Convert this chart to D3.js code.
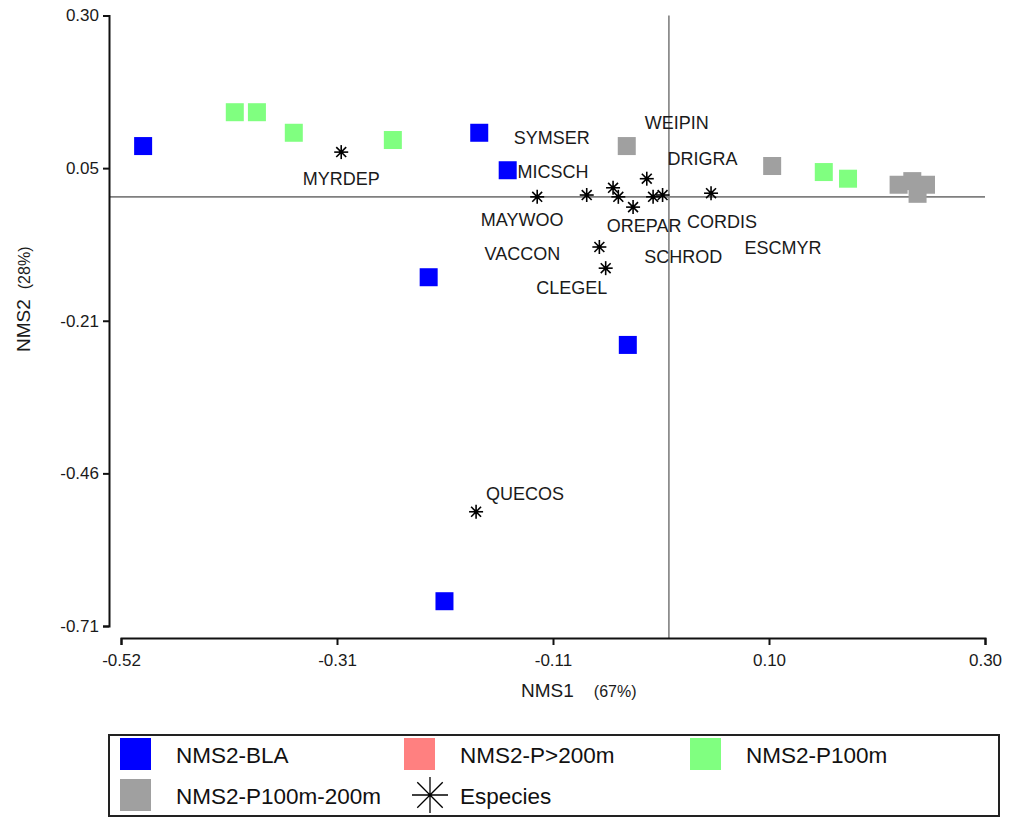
<!DOCTYPE html>
<html>
<head>
<meta charset="utf-8">
<script src="https://cdn.jsdelivr.net/npm/d3@7"></script>
<style>
  html, body { margin: 0; padding: 0; background: #fff; }
  svg { display: block; font-family: "Liberation Sans", Arial, sans-serif; }
</style>
</head>
<body>
<svg id="chart" width="1010" height="819"></svg>
<script>
// NMS ordination scores (axis 1, axis 2)
const blaX = [-0.499, -0.180, -0.153, -0.228, -0.039, -0.213];
const blaY = [0.084, 0.106, 0.044, -0.133, -0.245, -0.669];

const p200X = [];
const p200Y = [];

const p100X = [-0.412, -0.391, -0.356, -0.262, 0.147, 0.170];
const p100Y = [0.140, 0.140, 0.106, 0.094, 0.041, 0.030];

const p100200X = [-0.040, 0.098, 0.218, 0.231, 0.244, 0.236];
const p100200Y = [0.084, 0.051, 0.020, 0.026, 0.020, 0.005];

const speciesNames = ["MAYWOO", "SYMSER", "MICSCH", "WEIPIN", "DRIGRA", "OREPAR",
                      "CORDIS", "ESCMYR", "SCHROD", "VACCON", "CLEGEL", "MYRDEP", "QUECOS"];
const speciesX = [-0.125, -0.078, -0.053, -0.021, -0.006, -0.034,
                  0.040, -0.015, -0.048, -0.066, -0.060, -0.311, -0.183];
const speciesY = [0.000, 0.003, 0.015, 0.030, 0.003, -0.017,
                  0.006, 0.000, 0.000, -0.083, -0.118, 0.074, -0.521];

const xTickLabels = ["-0.52", "-0.31", "-0.11", "0.10", "0.30"];
const yTickLabels = ["-0.71", "-0.46", "-0.21", "0.05", "0.30"];

const groupNames = ["NMS2-BLA", "NMS2-P>200m", "NMS2-P100m", "NMS2-P100m-200m", "Especies"];

// label placement (pixel offsets from each species point)
const labelDx = [-15, -35, -60, 30, 40, 11, 11, 130, 65, -77, -34, 0, 49];
const labelDy = [23, -57, -16, -56, -36, 19, 29, 51, 60, 7, 20, 27, -18];

const groupColors = ["#0000ff", "#ff8080", "#80ff80", "#a0a0a0"];

const svg = d3.select("#chart");

const x = d3.scaleLinear().domain([-0.52, 0.30]).range([121, 985]);
const y = d3.scaleLinear().domain([-0.71, 0.30]).range([626, 15.5]);

const evenTicks = (dom, n) => d3.range(n).map(i => dom[0] + (dom[1] - dom[0]) * i / (n - 1));

// origin reference lines
svg.append("line")
  .attr("x1", 109).attr("x2", x(0.30))
  .attr("y1", y(0)).attr("y2", y(0))
  .attr("stroke", "#7f7f7f").attr("stroke-width", 1.6);
svg.append("line")
  .attr("x1", x(0)).attr("x2", x(0))
  .attr("y1", y(0.30)).attr("y2", 638)
  .attr("stroke", "#7f7f7f").attr("stroke-width", 1.6);

// axes
const xAxis = d3.axisBottom(x)
  .tickValues(evenTicks(x.domain(), xTickLabels.length))
  .tickFormat((d, i) => xTickLabels[i])
  .tickSize(7).tickPadding(9);
const yAxis = d3.axisLeft(y)
  .tickValues(evenTicks(y.domain(), yTickLabels.length))
  .tickFormat((d, i) => yTickLabels[i])
  .tickSize(6).tickPadding(4);

const gx = svg.append("g").attr("transform", "translate(0,638)").call(xAxis);
const gy = svg.append("g").attr("transform", "translate(109,0)").call(yAxis);
[gx, gy].forEach(g => {
  g.select(".domain").attr("stroke", "#111").attr("stroke-width", 2);
  g.selectAll(".tick line").attr("stroke", "#111").attr("stroke-width", 2);
  g.selectAll(".tick text").attr("font-size", 17).attr("fill", "#1a1a1a")
    .attr("font-family", "Liberation Sans, Arial, sans-serif");
});

// axis titles
const xt = svg.append("text").attr("x", 521).attr("y", 697).attr("text-anchor", "start")
  .attr("fill", "#1a1a1a");
xt.append("tspan").attr("font-size", 19).text("NMS1");
xt.append("tspan").attr("font-size", 16).attr("dx", 20).text("(67%)");

const yt = svg.append("text").attr("transform", "translate(30,352) rotate(-90)")
  .attr("text-anchor", "start").attr("fill", "#1a1a1a");
yt.append("tspan").attr("font-size", 19).text("NMS2");
yt.append("tspan").attr("font-size", 16).attr("dx", 10).text("(28%)");

// sample squares
const sq = 18;
const groups = [
  { xs: blaX, ys: blaY, color: groupColors[0] },
  { xs: p200X, ys: p200Y, color: groupColors[1] },
  { xs: p100X, ys: p100Y, color: groupColors[2] },
  { xs: p100200X, ys: p100200Y, color: groupColors[3] }
];
groups.forEach(g => {
  svg.append("g").selectAll("rect")
    .data(g.xs.map((v, i) => [v, g.ys[i]]))
    .join("rect")
    .attr("x", d => x(d[0]) - sq / 2)
    .attr("y", d => y(d[1]) - sq / 2)
    .attr("width", sq).attr("height", sq)
    .attr("fill", g.color);
});

// asterisk marker
function star(sel, r, sw) {
  [0, 45, 90, 135].forEach(a => {
    const rad = a * Math.PI / 180;
    sel.append("line")
      .attr("x1", -r * Math.cos(rad)).attr("y1", -r * Math.sin(rad))
      .attr("x2", r * Math.cos(rad)).attr("y2", r * Math.sin(rad))
      .attr("stroke", "#000").attr("stroke-width", sw);
  });
  sel.append("circle").attr("r", sw * 1.4).attr("fill", "#000");
}

const species = speciesNames.map((n, i) => ({ n, x: speciesX[i], y: speciesY[i], dx: labelDx[i], dy: labelDy[i] }));

const sg = svg.append("g").selectAll("g").data(species).join("g")
  .attr("transform", d => `translate(${x(d.x)},${y(d.y)})`);
sg.each(function () { star(d3.select(this), 7, 1.6); });

svg.append("g").selectAll("text").data(species).join("text")
  .attr("x", d => x(d.x) + d.dx)
  .attr("y", d => y(d.y) + d.dy)
  .attr("text-anchor", "middle")
  .attr("dominant-baseline", "central")
  .attr("font-size", 18)
  .attr("fill", "#1a1a1a")
  .text(d => d.n);

// legend
const lg = svg.append("g");
lg.append("rect").attr("x", 109).attr("y", 735).attr("width", 890).attr("height", 81)
  .attr("fill", "none").attr("stroke", "#222").attr("stroke-width", 2);

const legendPos = [
  { x: 120, y: 738 }, { x: 404, y: 738 }, { x: 690, y: 738 },
  { x: 120, y: 779 }, { x: 404, y: 779 }
];
groupNames.forEach((name, i) => {
  const p = legendPos[i];
  if (i < 4) {
    lg.append("rect").attr("x", p.x).attr("y", p.y).attr("width", 31).attr("height", 32)
      .attr("fill", groupColors[i]);
  } else {
    const s = lg.append("g").attr("transform", `translate(${p.x + 26},${p.y + 16})`);
    star(s, 18, 1.3);
  }
  lg.append("text").attr("x", p.x + 56).attr("y", p.y + 17)
    .attr("dominant-baseline", "central")
    .attr("font-size", 22.5).attr("fill", "#111")
    .text(name);
});
</script>
</body>
</html>
